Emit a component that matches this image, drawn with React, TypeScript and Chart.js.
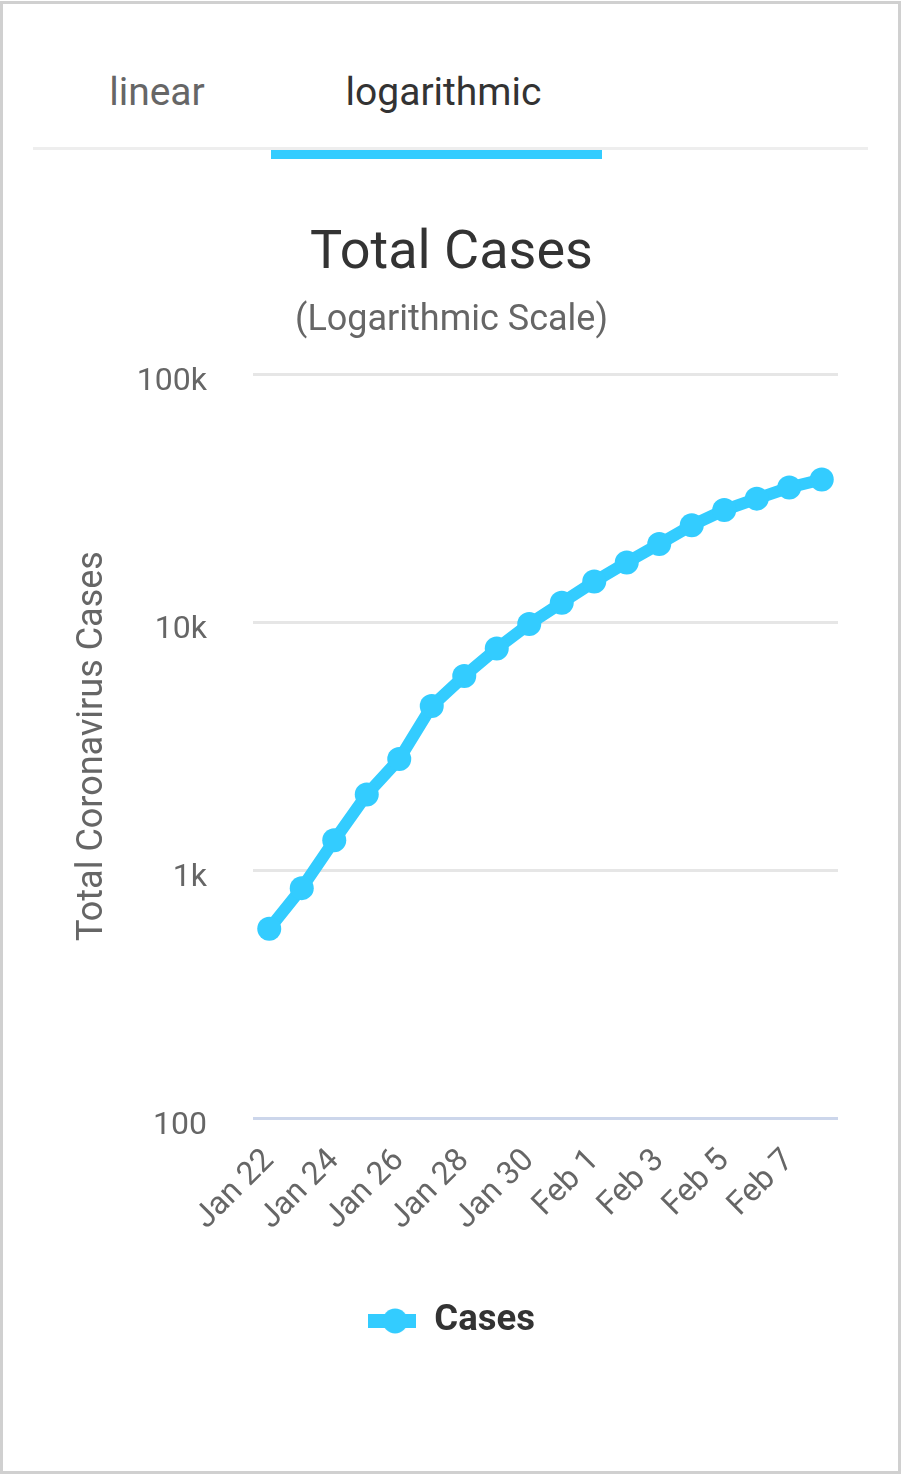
import React, { useEffect, useRef } from "react";
import { Chart, registerables } from "chart.js";

Chart.register(...registerables);

const categories = [
  "Jan 22", "Jan 23", "Jan 24", "Jan 25", "Jan 26", "Jan 27", "Jan 28", "Jan 29", "Jan 30",
  "Jan 31", "Feb 1", "Feb 2", "Feb 3", "Feb 4", "Feb 5", "Feb 6", "Feb 7", "Feb 8",
];
const cases = [
  580, 845, 1317, 2015, 2800, 4581, 6058, 7813, 9823,
  11948, 14551, 17389, 20628, 24553, 28276, 31439, 34876, 37552,
];
const yTickValues = [100, 1000, 10000, 100000];
const yTickLabels = ["100", "1k", "10k", "100k"];
const tabs = ["linear", "logarithmic"];

const LINE = "#33ccff";
const FONT = "Roboto";

function makeLegendSwatch(): HTMLCanvasElement {
  const c = document.createElement("canvas");
  c.width = 48;
  c.height = 26;
  const g = c.getContext("2d")!;
  g.fillStyle = LINE;
  g.fillRect(0, 6, 48, 14);
  g.beginPath();
  g.arc(27, 13, 12.5, 0, Math.PI * 2);
  g.fill();
  return c;
}

export default function App() {
  const ref = useRef<HTMLCanvasElement | null>(null);

  useEffect(() => {
    if (!ref.current) return;
    Chart.defaults.font.family = FONT;
    const chart = new Chart(ref.current, {
      type: "line",
      data: {
        labels: categories,
        datasets: [
          {
            label: "Cases",
            data: cases,
            borderColor: LINE,
            backgroundColor: LINE,
            borderWidth: 12,
            pointRadius: 12,
            pointBackgroundColor: LINE,
            pointBorderWidth: 0,
            tension: 0,
            fill: false,
          },
        ],
      },
      options: {
        animation: false,
        responsive: false,
        events: [],
        layout: { padding: { left: 65, right: 65, top: 0, bottom: 120.75 } },
        plugins: {
          tooltip: { enabled: false },
          title: {
            display: true,
            text: "Total Cases",
            color: "#333333",
            font: { family: FONT, size: 54, weight: "normal" },
            padding: { top: 51.6, bottom: 0 },
          },
          subtitle: {
            display: true,
            text: "(Logarithmic Scale)",
            color: "#666666",
            font: { family: FONT, size: 36, weight: "normal" },
            padding: { top: 13, bottom: 31.4 },
          },
          legend: {
            position: "bottom",
            labels: {
              usePointStyle: true,
              pointStyle: makeLegendSwatch() as any,
              pointStyleWidth: 48,
              color: "#333333",
              font: { family: FONT, size: 36.5, weight: "bold" },
              padding: 10,
            },
          },
        },
        scales: {
          x: {
            type: "category",
            offset: true,
            grid: { display: false },
            border: { display: false },
            ticks: {
              autoSkip: false,
              maxRotation: 45,
              minRotation: 45,
              color: "#666666",
              font: { family: FONT, size: 32 },
              padding: 16,
              callback: (_v: any, i: number) => (i % 2 === 0 ? categories[i] : ""),
            },
            afterFit: (s: any) => {
              s.height = 174.75;
            },
          },
          y: {
            type: "logarithmic",
            min: 100,
            max: 100000,
            afterBuildTicks: (s: any) => {
              s.ticks = yTickValues.map((v) => ({ value: v }));
            },
            afterFit: (s: any) => {
              s.width = 188;
            },
            border: { display: false },
            grid: {
              drawTicks: false,
              lineWidth: 3,
              color: (ctx: any) =>
                ctx.tick && ctx.tick.value === 100 ? "#ccd6eb" : "#e6e6e6",
            },
            ticks: {
              padding: 46,
              labelOffset: 8,
              color: "#666666",
              font: { family: FONT, size: 32 },
              callback: (v: any) => {
                const i = yTickValues.indexOf(Number(v));
                return i >= 0 ? yTickLabels[i] : "";
              },
            },
            title: {
              display: true,
              text: "Total Coronavirus Cases",
              color: "#666666",
              font: { family: FONT, size: 36, weight: "normal" },
              padding: { top: 6, bottom: 0 },
            },
          },
        },
      },
    });
    return () => chart.destroy();
  }, []);

  return (
    <div style={{ fontFamily: FONT }}>
      <div
        style={{
          position: "absolute",
          left: 0,
          top: 1,
          width: 901,
          height: 1473,
          boxSizing: "border-box",
          border: "3px solid #d0d0d0",
          background: "#ffffff",
        }}
      />
      <div
        style={{
          position: "absolute",
          left: 33,
          top: 146.5,
          width: 835,
          height: 3,
          background: "#eeeeee",
        }}
      />
      <div
        style={{
          position: "absolute",
          left: 271,
          top: 150,
          width: 331,
          height: 9,
          background: LINE,
        }}
      />
      <div
        style={{
          position: "absolute",
          left: 57,
          top: 62,
          width: 200,
          height: 60,
          lineHeight: "60px",
          textAlign: "center",
          fontSize: 39,
          color: "#666666",
        }}
      >
        {tabs[0]}
      </div>
      <div
        style={{
          position: "absolute",
          left: 293.5,
          top: 62,
          width: 300,
          height: 60,
          lineHeight: "60px",
          textAlign: "center",
          fontSize: 39,
          color: "#333333",
        }}
      >
        {tabs[1]}
      </div>
      <div style={{ position: "absolute", left: 0, top: 170, width: 903, height: 1300 }}>
        <canvas ref={ref} width={903} height={1300} style={{ width: 903, height: 1300 }} />
      </div>
    </div>
  );
}
